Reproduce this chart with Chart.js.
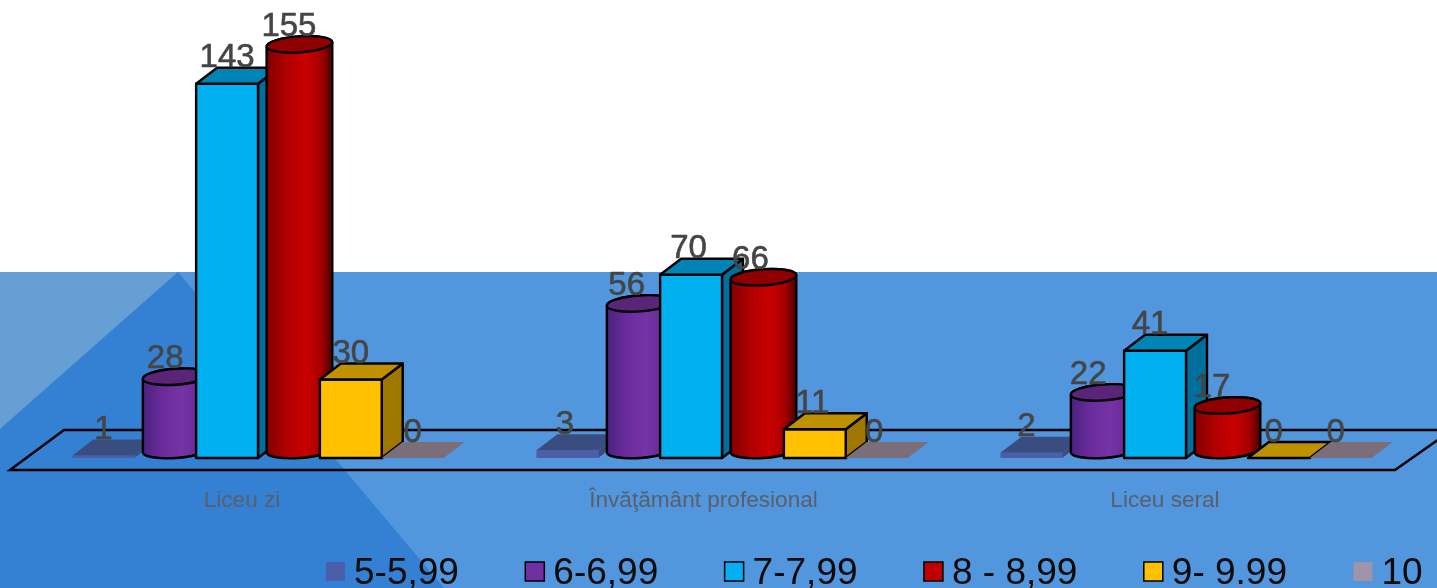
<!DOCTYPE html>
<html lang="ro">
<head>
    <meta charset="UTF-8">
    <title>Medii pe filiere</title>
    <script src="https://cdn.jsdelivr.net/npm/chart.js"></script>
    <style>
        html, body { margin: 0; padding: 0; background: #fff; overflow: hidden; }
        canvas { display: block; }
    </style>
</head>
<body>
    <canvas id="grafic" width="1437" height="588"></canvas>

    <script>
        // Date
        const categorii = ["Liceu zi", "Învăţământ profesional", "Liceu seral"];
        const serii = ["5-5,99", "6-6,99", "7-7,99", "8 - 8,99", "9- 9.99", "10"];
        const medii5 = [1, 3, 2];
        const medii6 = [28, 56, 22];
        const medii7 = [143, 70, 41];
        const medii8 = [155, 66, 17];
        const medii9 = [30, 11, 0];
        const medii10 = [0, 0, 0];

        // Aspect pentru fiecare serie
        const stiluri = [
            { forma: 'box', fata: '#4a5fa8', sus: '#3a4d80', lateral: '#3a4d80', contur: false },
            { forma: 'cyl', fata: ['#4a2180', '#6a2c9a', '#7533a6', '#6a2c98', '#3c1a62'], sus: '#5a2578', contur: true, legenda: '#7030a0' },
            { forma: 'box', fata: '#00b0f0', sus: '#0084b5', lateral: '#006f9c', contur: true },
            { forma: 'cyl', fata: ['#800000', '#b00000', '#c80000', '#a80000', '#4a0000'], sus: '#900000', contur: true, legenda: '#c00000' },
            { forma: 'box', fata: '#ffc000', sus: '#bf9000', lateral: '#9e7700', contur: true },
            { forma: 'box', fata: '#a094a8', sus: '#7a6e78', lateral: '#7a6e78', contur: false }
        ];

        const DX = 21, DY = 16; // adancimea 3D
        const DERIVA = 2.5;     // etichetele se apropie usor intre grupuri

        function desenCutie(ctx, b, st) {
            const stg = b.x - b.width / 2, dr = b.x + b.width / 2;
            const poly = (pts, culoare) => {
                ctx.beginPath();
                pts.forEach((p, i) => i ? ctx.lineTo(p[0], p[1]) : ctx.moveTo(p[0], p[1]));
                ctx.closePath();
                ctx.fillStyle = culoare;
                ctx.fill();
                if (st.contur) ctx.stroke();
            };
            if (b.base - b.y > 0.5) {
                poly([[dr, b.y], [dr + DX, b.y - DY], [dr + DX, b.base - DY], [dr, b.base]], st.lateral);
                poly([[stg, b.y], [dr, b.y], [dr, b.base], [stg, b.base]], st.fata);
            }
            poly([[stg, b.y], [dr, b.y], [dr + DX, b.y - DY], [stg + DX, b.y - DY]], st.sus);
        }

        function desenCilindru(ctx, b, st) {
            const rx = b.width / 2 + 2, ry = 8, tilt = -0.07;
            const cx = b.x + DX / 2;
            const ySus = b.y - ry, yJos = b.base - ry;
            const gr = ctx.createLinearGradient(cx - rx, 0, cx + rx, 0);
            gr.addColorStop(0, st.fata[0]);
            gr.addColorStop(0.3, st.fata[1]);
            gr.addColorStop(0.6, st.fata[2]);
            gr.addColorStop(0.82, st.fata[3]);
            gr.addColorStop(1, st.fata[4]);
            ctx.beginPath();
            ctx.ellipse(cx, yJos, rx, ry, tilt, 0, Math.PI);
            ctx.ellipse(cx, ySus, rx, ry, tilt, Math.PI, Math.PI * 2);
            ctx.closePath();
            ctx.fillStyle = gr;
            ctx.fill();
            ctx.stroke();
            ctx.beginPath();
            ctx.ellipse(cx, ySus, rx, ry, tilt, 0, Math.PI * 2);
            ctx.fillStyle = st.sus;
            ctx.fill();
            ctx.stroke();
        }

        const grafic3d = {
            id: 'grafic3d',
            // fundalul slide-ului
            beforeDraw(chart) {
                const ctx = chart.ctx, w = chart.width, h = chart.height, sus = 272;
                ctx.save();
                ctx.fillStyle = '#ffffff';
                ctx.fillRect(0, 0, w, h);
                ctx.fillStyle = '#5296dd';
                ctx.fillRect(0, sus, w, h - sus);
                ctx.fillStyle = '#659fd4';
                ctx.beginPath();
                ctx.moveTo(0, sus); ctx.lineTo(178, sus); ctx.lineTo(0, 429);
                ctx.closePath();
                ctx.fill();
                ctx.fillStyle = '#3481d3';
                ctx.beginPath();
                ctx.moveTo(178, sus); ctx.lineTo(444, h); ctx.lineTo(0, h); ctx.lineTo(0, 429);
                ctx.closePath();
                ctx.fill();
                ctx.restore();
            },
            // podeaua graficului
            beforeDatasetsDraw(chart) {
                const ctx = chart.ctx, a = chart.chartArea;
                ctx.save();
                ctx.strokeStyle = '#000';
                ctx.lineWidth = 2.5;
                ctx.lineJoin = 'miter';
                ctx.beginPath();
                ctx.moveTo(a.left - 16, a.bottom + 12);
                ctx.lineTo(a.right - 23, a.bottom + 12);
                ctx.lineTo(a.right + 34, a.bottom - 28);
                ctx.lineTo(a.left + 38, a.bottom - 28);
                ctx.closePath();
                ctx.stroke();
                ctx.restore();
            },
            // barele native nu se deseneaza, le inlocuim cu forme 3D
            beforeDatasetDraw() {
                return false;
            },
            afterDatasetsDraw(chart) {
                const ctx = chart.ctx;
                ctx.save();
                ctx.strokeStyle = '#000';
                ctx.lineWidth = 2.4;
                ctx.lineJoin = 'round';
                chart.data.datasets.forEach((ds, i) => {
                    chart.getDatasetMeta(i).data.forEach(b => {
                        if (stiluri[i].forma === 'cyl') desenCilindru(ctx, b, stiluri[i]);
                        else desenCutie(ctx, b, stiluri[i]);
                    });
                });
                // etichete valori
                ctx.font = '33px "Liberation Sans"';
                ctx.fillStyle = '#454545';
                ctx.strokeStyle = '#454545';
                ctx.lineWidth = 0.6;
                ctx.textAlign = 'center';
                ctx.textBaseline = 'alphabetic';
                chart.data.datasets.forEach((ds, i) => {
                    chart.getDatasetMeta(i).data.forEach((b, j) => {
                        const x = b.x - DERIVA * j;
                        ctx.fillText(ds.data[j], x, b.y - DY - 0.5);
                        ctx.strokeText(ds.data[j], x, b.y - DY - 0.5);
                    });
                });
                // categorii sub podea
                const sx = chart.scales.x;
                ctx.font = '22.6px "Liberation Sans"';
                ctx.fillStyle = '#59606c';
                ctx.textBaseline = 'middle';
                categorii.forEach((c, j) => {
                    ctx.fillText(c, sx.getPixelForTick(j) - 16 - DERIVA * j, chart.chartArea.bottom + 43);
                });
                ctx.restore();
            },
            // legenda jos, cu spatiere mai stransa decat cea implicita
            afterDraw(chart) {
                const ctx = chart.ctx;
                ctx.save();
                ctx.font = '37px "Liberation Sans"';
                ctx.textBaseline = 'alphabetic';
                ctx.textAlign = 'left';
                const lat = 19, pas = 9, gol = 66.4;
                let x = 326;
                serii.forEach((s, i) => {
                    const st = stiluri[i];
                    ctx.fillStyle = st.legenda || st.fata;
                    ctx.fillRect(x, 562, lat, lat);
                    if (st.contur) {
                        ctx.strokeStyle = '#000';
                        ctx.lineWidth = 1.5;
                        ctx.strokeRect(x, 562, lat, lat);
                    }
                    ctx.fillStyle = '#0a0a0a';
                    ctx.fillText(s, x + lat + pas, 584);
                    x += lat + pas + ctx.measureText(s).width + gol;
                });
                ctx.restore();
            }
        };

        const valori = [medii5, medii6, medii7, medii8, medii9, medii10];

        new Chart(document.getElementById('grafic'), {
            type: 'bar',
            data: {
                labels: categorii,
                datasets: serii.map((s, i) => ({
                    label: s,
                    data: valori[i],
                    backgroundColor: stiluri[i].legenda || stiluri[i].fata,
                    barPercentage: 1,
                    categoryPercentage: 0.8
                }))
            },
            options: {
                responsive: false,
                animation: false,
                layout: { padding: { left: 26, right: 19, top: 0, bottom: 0 } },
                plugins: {
                    legend: { display: false },
                    tooltip: { enabled: false }
                },
                scales: {
                    x: {
                        afterFit: s => { s.height = 130; },
                        border: { display: false },
                        grid: { display: false, drawTicks: false },
                        ticks: { display: false }
                    },
                    y: {
                        display: false,
                        min: 0,
                        max: 175
                    }
                }
            },
            plugins: [grafic3d]
        });
    </script>
</body>
</html>
